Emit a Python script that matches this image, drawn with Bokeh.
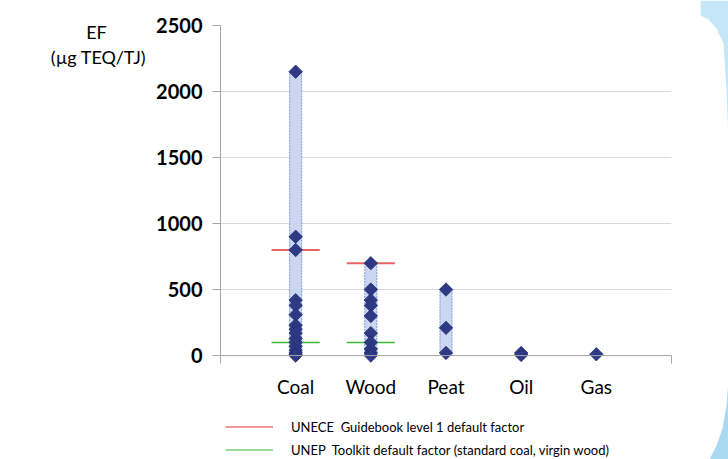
from math import pi
from bokeh.plotting import figure
from bokeh.layouts import row, column
from bokeh.models import (Range1d, FixedTicker, Span, Legend, LegendItem, ColumnDataSource)
from bokeh.core.properties import value
from bokeh.embed import file_html
from bokeh.resources import INLINE

# ---- data ----
categories = ["Coal", "Wood", "Peat", "Oil", "Gas"]
coal = [2150, 900, 800, 420, 380, 310, 230, 200, 170, 130, 100, 70, 40, 20, 5, 0]
wood = [700, 500, 420, 380, 300, 170, 100, 50, 20, 0]
peat = [500, 210, 20]
oil = [20, 5]
gas = [10]
default_cats = ["Coal", "Wood"]
unece_default = [800, 700]
unep_default = [100, 100]
y_ticks = [0, 500, 1000, 1500, 2000, 2500]
y_title = ["EF", "(µg TEQ/TJ)"]
legend_labels = ["UNECE  Guidebook level 1 default factor",
                 "UNEP  Toolkit default factor (standard coal, virgin wood)"]

series = [coal, wood, peat, oil, gas]
pos = {c: i + 1 for i, c in enumerate(categories)}

FONT = "Lato"
RED = "#e03030"
GREEN = "#3cb83c"


def blank(width, height, xr, yr, left=0):
    f = figure(width=width, height=height, output_backend="svg", toolbar_location=None,
               x_range=xr, y_range=yr, x_axis_type=None, y_axis_type=None,
               min_border_left=left, min_border_right=0,
               min_border_top=0, min_border_bottom=0)
    f.outline_line_color = None
    f.xgrid.grid_line_color = None
    f.ygrid.grid_line_color = None
    f.border_fill_color = "white"
    f.background_fill_color = "white"
    return f


# ---- main chart ----
p = figure(width=550, height=410, output_backend="svg", toolbar_location=None,
           x_range=Range1d(0, 6), y_range=Range1d(-60, 2500),
           min_border_left=70, min_border_right=29, min_border_top=25,
           min_border_bottom=47)
p.outline_line_color = None
p.background_fill_color = "white"
p.border_fill_color = "white"

bar_src = ColumnDataSource(dict(
    left=[pos[c] - 0.08 for c in categories],
    right=[pos[c] + 0.08 for c in categories],
    bottom=[min(s) for s in series],
    top=[max(s) for s in series],
))
p.quad(left="left", right="right", bottom="bottom", top="top", source=bar_src,
       fill_color="#c5d3ee", fill_alpha=0.9, line_color="#7b9bd4",
       line_dash="2 1", line_width=1)

p.add_layout(Span(location=0, dimension="width", line_color="#a6a6a6", line_width=1))

p.segment(x0=[pos[c] - 0.32 for c in default_cats], x1=[pos[c] + 0.32 for c in default_cats],
          y0=unece_default, y1=unece_default, line_color=RED, line_alpha=0.75, line_width=2)
p.segment(x0=[pos[c] - 0.32 for c in default_cats], x1=[pos[c] + 0.32 for c in default_cats],
          y0=unep_default, y1=unep_default, line_color=GREEN, line_width=1.5)

xs, ys = [], []
for c, s in zip(categories, series):
    xs += [pos[c]] * len(s)
    ys += s
p.scatter(xs, ys, marker="square", angle=pi / 4, size=9.5,
          fill_color="#2f3a85", line_color="#252e70", line_width=0.8)

p.xgrid.grid_line_color = None
p.ygrid.grid_line_color = "#d9d9d9"
p.ygrid.ticker = FixedTicker(ticks=y_ticks)

p.yaxis.ticker = FixedTicker(ticks=y_ticks)
p.yaxis.axis_line_color = "#a6a6a6"
p.yaxis.major_tick_line_color = "#a6a6a6"
p.yaxis.major_tick_out = 8
p.yaxis.major_tick_in = 0
p.yaxis.minor_tick_line_color = None
p.yaxis.major_label_text_font = FONT
p.yaxis.major_label_text_font_style = "bold"
p.yaxis.major_label_text_font_size = "20px"
p.yaxis.major_label_text_color = "black"
p.yaxis.major_label_standoff = 10

p.xaxis.ticker = FixedTicker(ticks=[1, 2, 3, 4, 5], minor_ticks=[6])
p.xaxis.major_label_overrides = {pos[c]: c for c in categories}
p.xaxis.axis_line_color = None
p.xaxis.major_tick_line_color = None
p.xaxis.minor_tick_line_color = "#a6a6a6"
p.xaxis.minor_tick_in = 8
p.xaxis.minor_tick_out = 0
p.xaxis.major_label_text_font = FONT
p.xaxis.major_label_text_font_size = "19px"
p.xaxis.major_label_text_color = "black"
p.xaxis.major_label_standoff = 5

# ---- y-axis title (left strip, page coords) ----
tf = blank(150, 459, Range1d(0, 150), Range1d(459, 0))
tf.text(x=[96, 98], y=[31, 56], text=y_title, text_align="center", text_baseline="middle",
        text_font=value(FONT), text_font_size="18px", text_color="black")

# ---- legend strip (legend renderers hold one off-range segment so the keys draw) ----
lf = blank(550, 49, Range1d(0, 1), Range1d(0, 1), left=62)
r_red = lf.segment(x0=[5], x1=[6], y0=[5], y1=[5], line_color=RED, line_width=1.2)
r_green = lf.segment(x0=[5], x1=[6], y0=[5], y1=[5], line_color=GREEN, line_width=1.2)
legend = Legend(items=[LegendItem(label=legend_labels[0], renderers=[r_red]),
                       LegendItem(label=legend_labels[1], renderers=[r_green])],
                location="top_left", padding=0, margin=5, spacing=0,
                border_line_color=None, background_fill_alpha=0,
                glyph_width=48, glyph_height=23, label_height=23, label_standoff=18,
                label_text_font=FONT, label_text_font_size="13px", label_text_color="black")
lf.add_layout(legend)

# ---- right decorative glow of the slide panel (page coords) ----
gf = blank(28, 459, Range1d(700, 728), Range1d(459, 0))
gf.patch([700, 728, 728, 726, 723, 716, 708, 700], [0, 0, 143, 90, 43, 28, 19, 15],
         fill_color="#c4e6f7", line_color=None)
gf.patch([728, 728, 709, 716, 722, 726, 728], [367, 459, 459, 445, 428, 405, 380],
         fill_color="#a9daf1", line_color=None)

layout = row(tf, column(p, lf), gf)
open("out.html", "w").write(file_html(layout, INLINE))
